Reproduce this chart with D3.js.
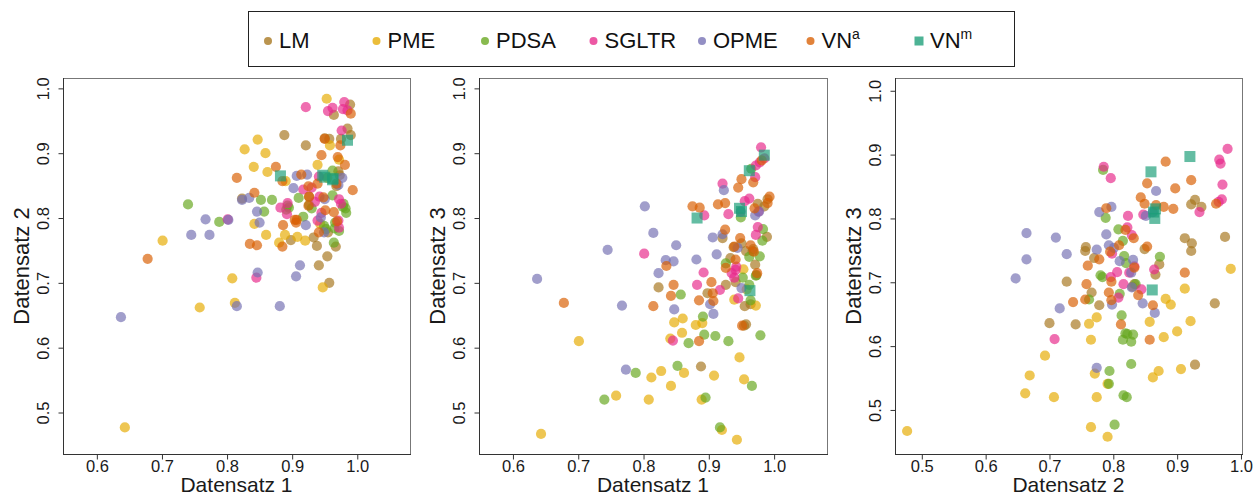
<!DOCTYPE html>
<html>
<head>
<meta charset="utf-8">
<script src="https://cdn.jsdelivr.net/npm/d3@7"></script>
<style>
  body { margin: 0; background: #fff; }
  svg { font-family: "Liberation Sans", Arial, sans-serif; }
  .tick text { fill: #1a1a1a; }
</style>
</head>
<body>
<div id="chart"></div>
<script>
// each point: [Datensatz 1, Datensatz 2, Datensatz 3]
const lm = [
  [0.823,0.830,0.693],[0.888,0.928,0.571],[0.898,0.766,0.684],[0.921,0.912,0.769],[0.926,0.833,0.697],
  [0.933,0.770,0.738],[0.938,0.757,0.755],[0.941,0.727,0.701],[0.950,0.923,0.761],[0.954,0.741,0.634],
  [0.957,0.700,0.636],[0.955,0.778,0.664],[0.957,0.922,0.749],[0.964,0.959,0.667],[0.967,0.756,0.749],
  [0.968,0.849,0.752],[0.971,0.872,0.728],[0.973,0.866,0.712],[0.975,0.922,0.822],[0.985,0.938,0.818],
  [0.989,0.975,0.771],[0.990,0.928,0.829]
];
const pme = [
  [0.643,0.477,0.467],[0.701,0.765,0.610],[0.758,0.662,0.526],[0.808,0.707,0.520],[0.812,0.669,0.554],
  [0.827,0.906,0.564],[0.841,0.879,0.614],[0.842,0.791,0.541],[0.847,0.921,0.639],[0.859,0.900,0.623],
  [0.860,0.774,0.645],[0.862,0.871,0.561],[0.880,0.762,0.635],[0.890,0.857,0.638],[0.889,0.774,0.520],
  [0.908,0.771,0.557],[0.920,0.765,0.473],[0.939,0.882,0.674],[0.943,0.791,0.458],[0.947,0.693,0.585],
  [0.953,0.984,0.721],[0.954,0.862,0.551],[0.958,0.912,0.690],[0.972,0.890,0.665]
];
const pdsa = [
  [0.740,0.821,0.520],[0.788,0.794,0.561],[0.852,0.828,0.572],[0.857,0.810,0.682],[0.869,0.828,0.607],
  [0.891,0.813,0.648],[0.893,0.819,0.620],[0.895,0.816,0.523],[0.910,0.831,0.618],[0.917,0.802,0.477],
  [0.926,0.820,0.730],[0.930,0.815,0.610],[0.949,0.788,0.801],[0.952,0.783,0.708],[0.962,0.835,0.697],
  [0.962,0.873,0.740],[0.964,0.762,0.673],[0.965,0.784,0.876],[0.966,0.793,0.541],[0.972,0.780,0.711],
  [0.978,0.817,0.741],[0.979,0.822,0.619],[0.982,0.815,0.765],[0.983,0.808,0.783]
];
const sgltr = [
  [0.801,0.798,0.745],[0.845,0.708,0.611],[0.882,0.816,0.697],[0.892,0.806,0.716],[0.893,0.823,0.804],
  [0.917,0.844,0.689],[0.921,0.971,0.853],[0.930,0.847,0.806],[0.935,0.825,0.715],[0.939,0.796,0.708],
  [0.941,0.864,0.720],[0.942,0.833,0.725],[0.945,0.808,0.676],[0.955,0.965,0.826],[0.962,0.970,0.830],
  [0.971,0.796,0.863],[0.972,0.785,0.881],[0.972,0.829,0.774],[0.975,0.822,0.786],[0.976,0.935,0.810],
  [0.978,0.968,0.886],[0.980,0.979,0.909],[0.985,0.966,0.892]
];
const opme = [
  [0.637,0.647,0.706],[0.745,0.774,0.751],[0.767,0.798,0.665],[0.773,0.774,0.566],[0.802,0.797,0.818],
  [0.815,0.664,0.777],[0.823,0.828,0.715],[0.834,0.831,0.735],[0.846,0.810,0.733],[0.847,0.716,0.659],
  [0.850,0.793,0.758],[0.881,0.664,0.736],[0.902,0.846,0.667],[0.906,0.710,0.770],[0.907,0.865,0.652],
  [0.912,0.727,0.744],[0.921,0.789,0.775],[0.923,0.867,0.843],[0.944,0.801,0.754],[0.949,0.778,0.810],
  [0.950,0.829,0.692],[0.971,0.851,0.804],[0.977,0.862,0.810]
];
const vna = [
  [0.678,0.737,0.669],[0.815,0.862,0.664],[0.835,0.760,0.726],[0.842,0.839,0.680],[0.846,0.758,0.697],
  [0.875,0.879,0.818],[0.885,0.756,0.673],[0.885,0.857,0.610],[0.886,0.789,0.816],[0.904,0.797,0.701],
  [0.906,0.793,0.684],[0.907,0.797,0.672],[0.914,0.867,0.821],[0.925,0.849,0.823],[0.926,0.833,0.723],
  [0.925,0.819,0.782],[0.939,0.853,0.756],[0.941,0.778,0.736],[0.945,0.897,0.847],[0.948,0.832,0.769],
  [0.950,0.922,0.860],[0.951,0.812,0.634],[0.964,0.809,0.758],[0.968,0.853,0.855],[0.969,0.795,0.748],
  [0.970,0.894,0.815],[0.974,0.912,0.715],[0.981,0.882,0.889],[0.990,0.961,0.823],[0.993,0.843,0.833]
];
const vnm = [
  [0.882,0.865,0.800],[0.985,0.920,0.897],[0.962,0.859,0.873],[0.963,0.861,0.688],
  [0.947,0.866,0.815],[0.950,0.863,0.810]
];

const groupNames = ['LM', 'PME', 'PDSA', 'SGLTR', 'OPME', 'VN', 'VN'];
const groupSup = ['', '', '', '', '', 'a', 'm'];
const groupColors = ['#A6761D', '#E6AB02', '#66A61E', '#E7298A', '#7570B3', '#D95F02', '#1B9E77'];
const groupData = [lm, pme, pdsa, sgltr, opme, vna, vnm];

const axisTitles = ['Datensatz 1', 'Datensatz 2', 'Datensatz 3'];
const ticks12 = [0.6, 0.7, 0.8, 0.9, 1.0];
const ticks3 = [0.5, 0.6, 0.7, 0.8, 0.9, 1.0];

const W = 1253, H = 498;
const ALPHA = 0.68;

const svg = d3.select('#chart').append('svg')
  .attr('width', W).attr('height', H);

// panel layout: which columns go on x / y and the plot box
const panels = [
  {xi: 0, yi: 1, left: 63,  right: 410,  top: 78, bottom: 454,
   xdom: [0.548, 1.081], ydom: [0.436, 1.016], xticks: ticks12},
  {xi: 0, yi: 2, left: 479, right: 827,  top: 78, bottom: 454,
   xdom: [0.548, 1.081], ydom: [0.436, 1.016], xticks: ticks12},
  {xi: 1, yi: 2, left: 895, right: 1242, top: 78, bottom: 454,
   xdom: [0.458, 1.0016], ydom: [0.431, 1.020], xticks: ticks3}
];

panels.forEach(p => {
  const x = d3.scaleLinear().domain(p.xdom).range([p.left, p.right]);
  const y = d3.scaleLinear().domain(p.ydom).range([p.bottom, p.top]);
  const g = svg.append('g');

  // box
  g.append('rect')
    .attr('x', p.left + 0.5).attr('y', p.top + 0.5)
    .attr('width', p.right - p.left).attr('height', p.bottom - p.top)
    .attr('fill', 'none').attr('stroke', '#777').attr('stroke-width', 1);

  // x axis
  const xa = g.append('g')
    .attr('transform', `translate(0,${p.bottom + 0.5})`)
    .call(d3.axisBottom(x).tickValues(p.xticks).tickFormat(d3.format('.1f'))
      .tickSize(5).tickSizeOuter(0));
  xa.select('.domain').attr('stroke', '#333').attr('d', `M${p.left},0H${p.right + 1}`);
  xa.selectAll('.tick line').attr('stroke', '#333');
  xa.selectAll('.tick text').attr('y', 6).attr('font-size', 16.5);

  // y axis with rotated labels
  const ya = g.append('g')
    .attr('transform', `translate(${p.left + 0.5},0)`)
    .call(d3.axisLeft(y).tickValues(ticks3).tickFormat(d3.format('.1f'))
      .tickSize(5).tickSizeOuter(0));
  ya.select('.domain').attr('stroke', '#333').attr('d', `M0,${p.top}V${p.bottom + 1}`);
  ya.selectAll('.tick line').attr('stroke', '#333');
  ya.selectAll('.tick text')
    .attr('transform', 'rotate(-90)')
    .attr('x', 0).attr('y', -20).attr('dy', '0.35em')
    .attr('text-anchor', 'middle').attr('font-size', 16.5);

  // titles
  g.append('text')
    .attr('x', (p.left + p.right) / 2).attr('y', 492)
    .attr('text-anchor', 'middle').attr('font-size', 21).attr('fill', '#1a1a1a')
    .text(axisTitles[p.xi]);
  g.append('text')
    .attr('transform', `translate(${p.left - 34},${(p.top + p.bottom) / 2}) rotate(-90)`)
    .attr('text-anchor', 'middle').attr('font-size', 22).attr('fill', '#1a1a1a')
    .text(axisTitles[p.yi]);

  // points
  groupData.forEach((data, gi) => {
    if (gi === 6) {
      g.selectAll(null).data(data).enter().append('rect')
        .attr('x', d => x(d[p.xi]) - 5.5).attr('y', d => y(d[p.yi]) - 5.5)
        .attr('width', 11).attr('height', 11)
        .attr('fill', groupColors[gi]).attr('fill-opacity', ALPHA);
    } else {
      g.selectAll(null).data(data).enter().append('circle')
        .attr('cx', d => x(d[p.xi])).attr('cy', d => y(d[p.yi]))
        .attr('r', 5.1)
        .attr('fill', groupColors[gi]).attr('fill-opacity', ALPHA);
    }
  });
});

// legend
const leg = svg.append('g');
leg.append('rect')
  .attr('x', 248.5).attr('y', 11.5).attr('width', 766).attr('height', 55)
  .attr('fill', '#fff').attr('stroke', '#222').attr('stroke-width', 1);

const legX = d3.scalePoint().domain(d3.range(groupNames.length)).range([268, 919]);
groupNames.forEach((name, i) => {
  const cx = legX(i);
  if (i === 6) {
    leg.append('rect').attr('x', cx - 4.5).attr('y', 36.5).attr('width', 9).attr('height', 9)
      .attr('fill', groupColors[i]).attr('fill-opacity', ALPHA + 0.1);
  } else {
    leg.append('circle').attr('cx', cx).attr('cy', 41).attr('r', 4)
      .attr('fill', groupColors[i]).attr('fill-opacity', ALPHA + 0.1);
  }
  const t = leg.append('text').attr('x', cx + 11).attr('y', 48)
    .attr('font-size', 22).attr('fill', '#111').text(name);
  if (groupSup[i]) {
    t.append('tspan').attr('font-size', 14).attr('dy', -9).text(groupSup[i]);
  }
});
</script>
</body>
</html>
